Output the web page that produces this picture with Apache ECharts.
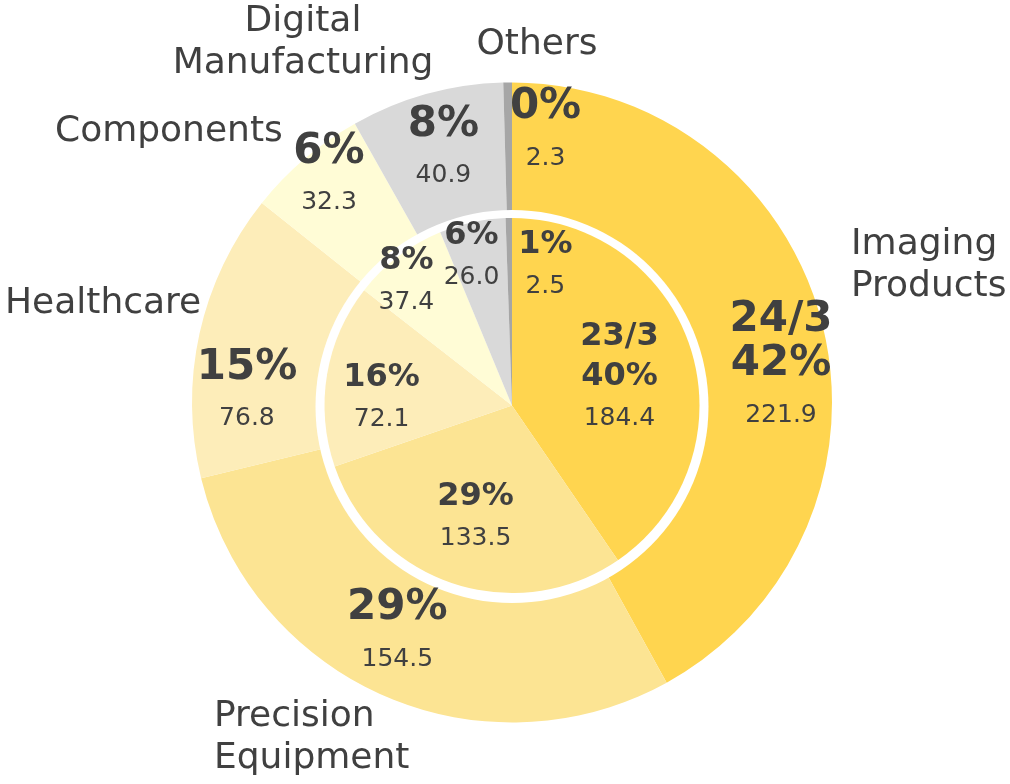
<!DOCTYPE html>
<html>
<head>
<meta charset="utf-8">
<script src="https://cdn.jsdelivr.net/npm/echarts@6/dist/echarts.min.js"></script>
<style>
  html, body { margin: 0; padding: 0; background: #fff; }
  #chart { width: 1010px; height: 784px; }
</style>
</head>
<body>
<div id="chart"></div>
<script>
// segments, clockwise from 12 o'clock
const categories = ["Imaging\nProducts", "Precision\nEquipment", "Healthcare", "Components", "Digital\nManufacturing", "Others"];
const fy24Values = [221.9, 154.5, 76.8, 32.3, 40.9, 2.3];
const fy24Pct = ["42%", "29%", "15%", "6%", "8%", "0%"];
const fy23Values = [184.4, 133.5, 72.1, 37.4, 26.0, 2.5];
const fy23Pct = ["40%", "29%", "16%", "8%", "6%", "1%"];
const outerYear = "24/3";
const innerYear = "23/3";

const colors = ["#FFD54F", "#FCE493", "#FDEDB9", "#FFFCD6", "#D9D9D9", "#A6A6A6"];
const textColor = "#404040";
const font = "DejaVu Sans";

// nudges from the default inside label spot
const outerShift = [[24, 32], [-13, 3], [-18, 49], [-19, -29], [-1, -5], [37, -13]];
const innerShift = [[15, 2], [-6, 21], [-35, 10], [-47, -46], [-20, -53], [35, -42]];
// category names: x, y, align
const namePos = [[851, 266, "left"], [214, 738, "left"], [5, 304, "left"], [55, 132, "left"], [303, 43, "center"], [537, 45, "center"]];

function sliceData(values) {
  return values.map((v, i) => ({ name: categories[i], value: v, itemStyle: { color: colors[i] } }));
}

const chart = echarts.init(document.getElementById("chart"));

chart.setOption({
  animation: false,
  textStyle: { fontFamily: font },
  series: [
    {
      // 24/3 ring
      type: "pie",
      center: [512, 402.5],
      radius: [180, 320],
      startAngle: 90,
      silent: true,
      emphasis: { disabled: true },
      data: sliceData(fy24Values),
      labelLine: { show: false },
      label: {
        position: "inside",
        formatter: (p) => {
          const head = p.dataIndex === 0 ? "{p|" + outerYear + "}\n" : "";
          return head + "{p|" + fy24Pct[p.dataIndex] + "}\n{v|" + p.value.toFixed(1) + "}";
        },
        rich: {
          p: { fontFamily: font, fontSize: 42, fontWeight: "bold", color: textColor, lineHeight: 44 },
          v: { fontFamily: font, fontSize: 25, color: textColor, lineHeight: 58 },
        },
      },
      labelLayout: (p) => ({ dx: outerShift[p.dataIndex][0], dy: outerShift[p.dataIndex][1] }),
    },
    {
      // white gap round the inner pie
      type: "pie",
      center: [512, 406.5],
      radius: [0, 196.5],
      silent: true,
      emphasis: { disabled: true },
      label: { show: false },
      labelLine: { show: false },
      data: [{ value: 1, itemStyle: { color: "#ffffff" } }],
    },
    {
      // 23/3 pie
      type: "pie",
      center: [512, 405.5],
      radius: [0, 187.5],
      startAngle: 90,
      silent: true,
      emphasis: { disabled: true },
      data: sliceData(fy23Values),
      labelLine: { show: false },
      label: {
        position: "inside",
        formatter: (p) => {
          const head = p.dataIndex === 0 ? "{p|" + innerYear + "}\n" : "";
          return head + "{p|" + fy23Pct[p.dataIndex] + "}\n{v|" + p.value.toFixed(1) + "}";
        },
        rich: {
          p: { fontFamily: font, fontSize: 32, fontWeight: "bold", color: textColor, lineHeight: 40 },
          v: { fontFamily: font, fontSize: 25, color: textColor, lineHeight: 44 },
        },
      },
      labelLayout: (p) => ({ dx: innerShift[p.dataIndex][0], dy: innerShift[p.dataIndex][1] }),
    },
    {
      // category names only
      type: "pie",
      center: [512, 402.5],
      radius: [180, 320],
      startAngle: 90,
      silent: true,
      emphasis: { disabled: true },
      itemStyle: { color: "rgba(0,0,0,0)" },
      data: fy24Values.map((v, i) => ({ name: categories[i], value: v })),
      labelLine: { show: false },
      label: {
        position: "inside",
        formatter: "{b}",
        fontFamily: font,
        fontSize: 36,
        lineHeight: 42,
        color: textColor,
      },
      labelLayout: (p) => ({
        x: namePos[p.dataIndex][0],
        y: namePos[p.dataIndex][1],
        align: namePos[p.dataIndex][2],
        verticalAlign: "middle",
      }),
    },
  ],
});
</script>
</body>
</html>
